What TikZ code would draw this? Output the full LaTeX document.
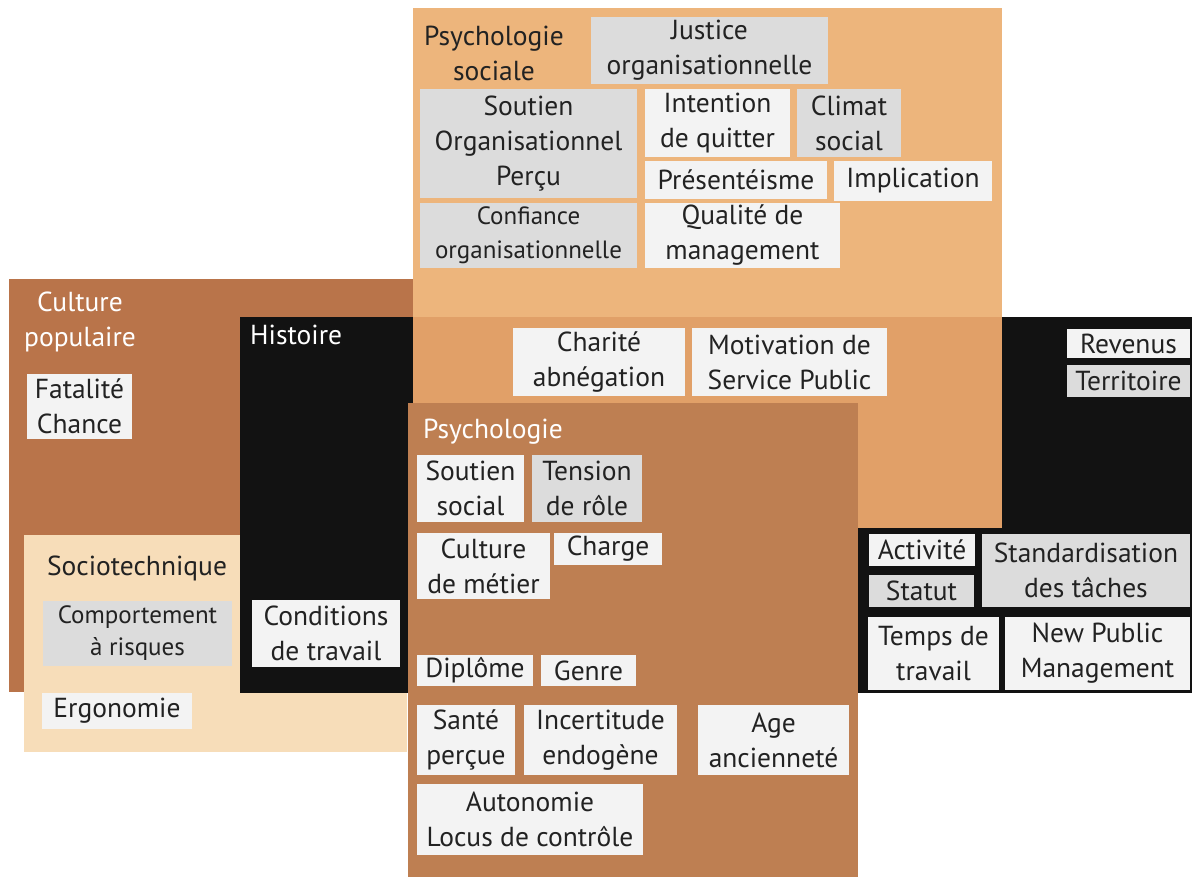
\documentclass[tikz,border=0pt]{standalone}
\usepackage{fontspec}
\setmainfont{PT Sans}
\definecolor{cpop}{HTML}{B9744A}
\definecolor{socio}{HTML}{F7DDB9}
\definecolor{psocl}{HTML}{EDB57C}
\definecolor{psocd}{HTML}{E1A068}
\definecolor{psy}{HTML}{BE7F52}
\definecolor{blk}{HTML}{121212}
\definecolor{boxw}{HTML}{F3F3F3}
\definecolor{boxg}{HTML}{DCDCDC}
\definecolor{txt}{HTML}{222222}
\begin{document}
\begin{tikzpicture}[x=1pt,y=-1pt,
  bx/.style={fill=boxw, inner sep=0pt, align=center, text=txt, font=\fontsize{27.5}{35}\selectfont},
  gx/.style={bx, fill=boxg},
  lbl/.style={inner sep=0pt, align=center, font=\fontsize{27.5}{35}\selectfont}]
\useasboundingbox (0,0) rectangle (1192,877);
\fill[white] (0,0) rectangle (1192,877);
% background regions
\fill[cpop] (9,279) rectangle (413,692);
\fill[socio] (24,535) rectangle (407,752);
\fill[blk] (240,317) rectangle (1192,693);
\fill[psocl] (413,8) rectangle (1002,317);
\fill[psocd] (413,317) rectangle (1002,528);
\fill[psy] (408,403) rectangle (858,877);
% region labels
\node[lbl, text=txt] (psoclbl) at (494,53) {Psychologie\\sociale};
\node[lbl, text=white] (cpoplbl) at (80,322) {Culture\\populaire};
\node[lbl, text=white, anchor=west] (histlbl) at (250,335) {Histoire};
\node[lbl, text=txt] (sociolbl) at (137,568) {Sociotechnique};
\node[lbl, text=white, anchor=west] (psylbl) at (423,432) {Psychologie};
% psychologie sociale
\node[gx, minimum width=237pt, minimum height=67pt] (just) at (709.5,50.5) {Justice\\organisationnelle};
\node[gx, minimum width=217pt, minimum height=109pt] (sop) at (528.5,143.5) {Soutien\\Organisationnel\\Perçu};
\node[bx, minimum width=145pt, minimum height=68pt] (inte) at (717.5,123) {Intention\\de quitter};
\node[gx, minimum width=104pt, minimum height=68pt] (clim) at (849,123) {Climat\\social};
\node[bx, minimum width=182pt, minimum height=38pt] (pres) at (736,180) {Présentéisme};
\node[bx, minimum width=158pt, minimum height=40pt] (impl) at (913,181) {Implication};
\node[gx, minimum width=217pt, minimum height=65pt, font=\fontsize{25}{34}\selectfont] (conf) at (528.5,235.5) {Confiance\\organisationnelle};
\node[bx, minimum width=195pt, minimum height=65pt] (qual) at (742.5,235.5) {Qualité de\\management};
% middle
\node[bx, minimum width=172pt, minimum height=68pt] (char) at (599,362) {Charité\\abnégation};
\node[bx, minimum width=195pt, minimum height=68pt] (msp) at (789.5,362) {Motivation de\\Service Public};
% right
\node[bx, minimum width=123pt, minimum height=29pt] (rev) at (1128.5,343.5) {Revenus};
\node[gx, minimum width=123pt, minimum height=32pt] (terr) at (1128.5,381) {Territoire};
\node[bx, minimum width=106pt, minimum height=32pt] (act) at (922,550) {Activité};
\node[gx, minimum width=105pt, minimum height=32pt] (stat) at (921.5,591) {Statut};
\node[gx, minimum width=208pt, minimum height=73pt] (stand) at (1086,570.5) {Standardisation\\des tâches};
\node[bx, minimum width=131pt, minimum height=73pt] (temps) at (933.5,653.5) {Temps de\\travail};
\node[bx, minimum width=185pt, minimum height=73pt] (npm) at (1097.5,653.5) {New Public\\Management};
% left
\node[bx, minimum width=105pt, minimum height=65pt] (fat) at (79.5,406.5) {Fatalité\\Chance};
\node[gx, minimum width=189pt, minimum height=65pt, font=\fontsize{25}{32}\selectfont] (comp) at (137.5,633.5) {Comportement\\à risques};
\node[bx, minimum width=148pt, minimum height=67pt] (cond) at (326,633.5) {Conditions\\de travail};
\node[bx, minimum width=150pt, minimum height=36pt] (ergo) at (117,711) {Ergonomie};
% psychologie
\node[bx, minimum width=107pt, minimum height=67pt] (ssoc) at (470.5,488.5) {Soutien\\social};
\node[gx, minimum width=110pt, minimum height=67pt] (tens) at (587,488.5) {Tension\\de rôle};
\node[bx, minimum width=133pt, minimum height=66pt] (cmet) at (483.5,566) {Culture\\de métier};
\node[bx, minimum width=108pt, minimum height=32pt] (charg) at (608,549) {Charge};
\node[bx, minimum width=116pt, minimum height=31pt] (dipl) at (475,670.5) {Diplôme};
\node[bx, minimum width=95pt, minimum height=31pt] (genr) at (588.5,670.5) {Genre};
\node[bx, minimum width=98pt, minimum height=70pt] (sant) at (466,740) {Santé\\perçue};
\node[bx, minimum width=153pt, minimum height=70pt] (inc) at (600.5,740) {Incertitude\\endogène};
\node[bx, minimum width=151pt, minimum height=70pt] (age) at (773.5,740) {Age\\ancienneté};
\node[bx, minimum width=226pt, minimum height=71pt] (auto) at (530,819.5) {Autonomie\\Locus de contrôle};
\end{tikzpicture}
\end{document}
